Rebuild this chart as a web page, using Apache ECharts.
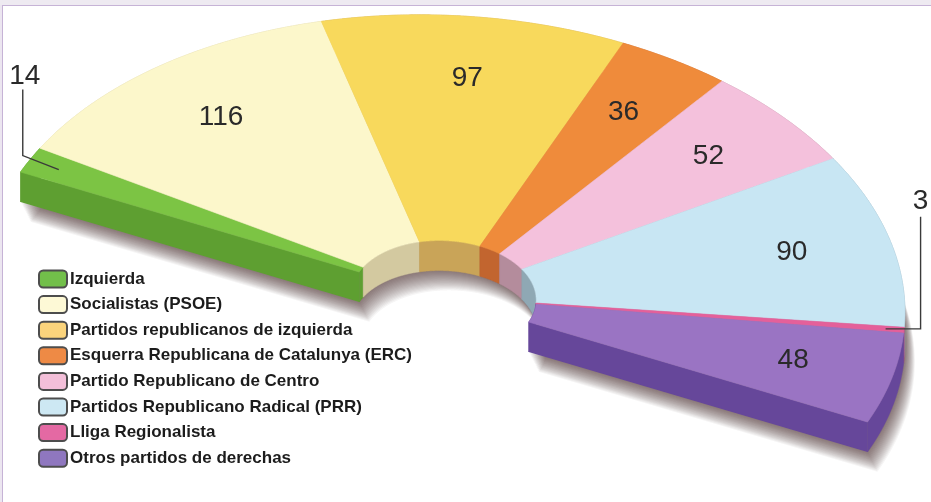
<!DOCTYPE html>
<html>
<head>
<meta charset="utf-8">
<script src="https://cdn.jsdelivr.net/npm/echarts@6/dist/echarts.min.js"></script>
<style>
html,body{margin:0;padding:0;background:#fff;width:931px;height:502px;overflow:hidden;}
#topband{position:absolute;left:0;top:0;width:931px;height:5px;background:#eeeaf1;}
#topline{position:absolute;left:0;top:5px;width:931px;height:1px;background:#c6b3d6;}
#leftband{position:absolute;left:0;top:5px;width:2px;height:497px;background:#ece6f0;}
#leftline{position:absolute;left:2px;top:5px;width:1px;height:497px;background:#c6b3d6;}
#chart{position:absolute;left:0;top:0;width:931px;height:502px;}
</style>
</head>
<body>
<div id="topband"></div><div id="topline"></div><div id="leftband"></div><div id="leftline"></div>
<div id="chart"></div>
<script>
// ---- data ----
const categories = [
  'Izquierda',
  'Socialistas (PSOE)',
  'Partidos republicanos de izquierda',
  'Esquerra Republicana de Catalunya (ERC)',
  'Partido Republicano de Centro',
  'Partidos Republicano Radical (PRR)',
  'Lliga Regionalista',
  'Otros partidos de derechas'
];
const seats = [14, 116, 97, 36, 52, 90, 3, 48];

// ---- styles ----
const legendColors = ['#72bf4a', '#fdf9d6', '#fbd47c', '#ee8a45', '#f3bfd9', '#cde8f3', '#e469a3', '#8f77bf'];
const topColors    = ['#7cc444', '#fcf7cb', '#f8d95c', '#ef8b3b', '#f4c1dc', '#c8e6f3', '#e4609a', '#9a74c3'];
const sideColors   = ['#5e9f31', '#d3c9a0', '#c9a458', '#c2652f', '#b48c9c', '#8fa8b4', '#a84a76', '#66479a'];

// projection of the flat half-ring onto the tilted view (layout only)
const CX = 444, CY = 297;
const UX = 423.5, UY = 125;   // direction of the diameter
const VX = 182, VY = -253;    // direction to the arc's middle
const K_IN = 0.2;             // inner radius ratio
const T = 30;                 // thickness
const RHO = 0.78;             // label radius
const PR = 100;               // polar pixel radius (virtual)

const total = seats.reduce((s, v) => s + v, 0);
const starts = [];
seats.reduce((acc, v, i) => { starts[i] = acc; return acc + v; }, 0);

function proj(api, r, a) {
  const p = api.coord([r, a]);
  const c = (p[0] - CX) / PR, s = -(p[1] - CY) / PR;
  return [CX + UX * c + VX * s, CY + UY * c + VY * s];
}
function arc(api, r, a0, a1) {
  const pts = [];
  const n = Math.max(2, Math.ceil((a1 - a0) * 2) + 1);
  for (let j = 0; j < n; j++) pts.push(proj(api, r, a0 + (a1 - a0) * j / (n - 1)));
  return pts;
}
const down = p => [p[0], p[1] + T];

// soft shadow: stacked translucent copies of the footprint
function baseRender(params, api) {
  const a0 = api.value(1), a1 = api.value(2);
  const outer = arc(api, 1, a0, a1), inner = arc(api, K_IN, a0, a1);
  const ring = outer.concat(inner.slice().reverse());
  const children = [];
  const N = 18;
  for (let k = 1; k <= N; k++) {
    const dx = k * 0.55, dy = T + k * 1.1;
    children.push({ type: 'polygon', z2: 0, silent: true,
      shape: { points: ring.map(p => [p[0] + dx, p[1] + dy]) },
      style: { fill: 'rgba(35,30,30,0.045)' } });
  }
  return { type: 'group', children: children };
}

function makeRender(i) {
  return function (params, api) {
    const a0 = api.value(1), a1 = api.value(2), val = api.value(3);
    const outer = arc(api, 1, a0, a1), inner = arc(api, K_IN, a0, a1);
    const children = [];
    // outer wall
    children.push({ type: 'polygon', z2: 1, shape: { points: outer.concat(outer.map(down).reverse()) },
      style: { fill: sideColors[i], stroke: sideColors[i], lineWidth: 0.5 } });
    // inner wall
    children.push({ type: 'polygon', z2: 2, shape: { points: inner.concat(inner.map(down).reverse()) },
      style: { fill: sideColors[i], stroke: sideColors[i], lineWidth: 0.5 } });
    // cut faces
    if (a0 === 0) {
      const o = outer[0], n = inner[0];
      children.push({ type: 'polygon', z2: 3, shape: { points: [o, n, down(n), down(o)] },
        style: { fill: sideColors[i] } });
    }
    if (a1 === total) {
      const o = outer[outer.length - 1], n = inner[inner.length - 1];
      children.push({ type: 'polygon', z2: 3, shape: { points: [n, o, down(o), down(n)] },
        style: { fill: sideColors[i] } });
    }
    // top face
    children.push({ type: 'polygon', z2: 10, shape: { points: outer.concat(inner.slice().reverse()) },
      style: { fill: topColors[i], stroke: topColors[i], lineWidth: 0.6 } });
    // label
    const mid = (a0 + a1) / 2;
    const font = '28px "Liberation Sans", Arial, sans-serif';
    if (val / total < 0.04) {
      const left = mid < total / 2;
      const anc = proj(api, left ? 0.93 : 0.96, mid);
      let line, tp;
      if (left) {
        line = [anc, [anc[0] - 36, anc[1] - 14], [anc[0] - 36, anc[1] - 80]];
        tp = [anc[0] - 34, anc[1] - 93];
      } else {
        line = [anc, [anc[0] + 35, anc[1]], [anc[0] + 35, anc[1] - 112]];
        tp = [anc[0] + 35, anc[1] - 128];
      }
      children.push({ type: 'polyline', z2: 21, shape: { points: line },
        style: { stroke: '#3a3a3a', lineWidth: 1.4, fill: null } });
      children.push({ type: 'text', z2: 22, style: { text: String(val), x: tp[0], y: tp[1],
        align: 'center', verticalAlign: 'middle', textAlign: 'center', textVerticalAlign: 'middle',
        font: font, fill: '#2a2a2a' } });
    } else {
      const p = proj(api, RHO, mid);
      children.push({ type: 'text', z2: 22, style: { text: String(val), x: p[0], y: p[1],
        align: 'center', verticalAlign: 'middle', textAlign: 'center', textVerticalAlign: 'middle',
        font: font, fill: '#2a2a2a' } });
    }
    return { type: 'group', children: children };
  };
}

const series = [{
  type: 'custom', name: '__base', coordinateSystem: 'polar', silent: true,
  data: [[1, 0, total]], encode: { radius: 0, angle: 1 }, renderItem: baseRender
}];
categories.forEach((name, i) => {
  series.push({
    type: 'custom', name: name, coordinateSystem: 'polar', silent: true,
    data: [[1, starts[i], starts[i] + seats[i], seats[i]]],
    encode: { radius: 0, angle: 1 },
    itemStyle: { color: legendColors[i] },
    renderItem: makeRender(i)
  });
});

const chart = echarts.init(document.getElementById('chart'), null, { renderer: 'canvas' });
chart.setOption({
  backgroundColor: 'transparent',
  animation: false,
  polar: { center: [CX, CY], radius: PR },
  angleAxis: { type: 'value', min: 0, max: 2 * total, startAngle: 180, clockwise: true, show: false },
  radiusAxis: { type: 'value', min: 0, max: 1, show: false },
  legend: {
    orient: 'vertical', left: 38, top: 269, padding: 0,
    itemWidth: 28, itemHeight: 17, itemGap: 5.6, icon: 'roundRect', selectedMode: false,
    textStyle: { fontFamily: '"Liberation Sans Narrow", "Liberation Sans", Arial, sans-serif', fontSize: 17,
      fontWeight: 'bold', color: '#1c1c1c', lineHeight: 20, padding: [0, 0, 0, -2] },
    data: categories.map((n, i) => ({ name: n, itemStyle: { color: legendColors[i], borderColor: '#4d4d4d', borderWidth: 2 } }))
  },
  series: series
});
</script>
</body>
</html>
